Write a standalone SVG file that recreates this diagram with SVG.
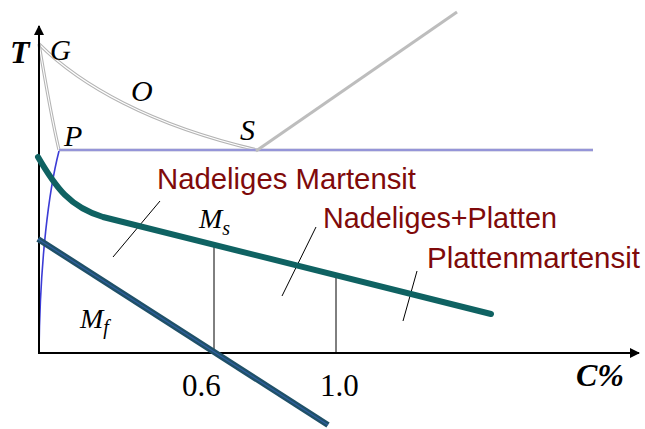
<svg xmlns="http://www.w3.org/2000/svg" width="645" height="429" viewBox="0 0 645 429">
<defs>
<marker id="arr" viewBox="0 0 10 10" refX="9" refY="5" markerWidth="5" markerHeight="5" orient="auto" markerUnits="strokeWidth">
<path d="M0,0 L10,5 L0,10 z" fill="#000"/>
</marker>
<style>
.dbl-o{fill:none;stroke:#b4b4b4;stroke-width:3.2}
.dbl-i{fill:none;stroke:#fff;stroke-width:1.1}
.lbl{font-family:"Liberation Serif",serif;font-style:italic;fill:#000}
.red{font-family:"Liberation Sans","Open Sans",sans-serif;fill:#7f0a0a;font-size:29px}
.lead{stroke:#000;stroke-width:1;fill:none}
.num{font-family:"Liberation Serif",serif;font-size:31px;fill:#000}
</style>
</defs>
<rect width="645" height="429" fill="#fff"/>
<g id="phase-lines">
<path class="dbl-o" d="M39,44 C80,85 150,125 257,150"/>
<path class="dbl-i" d="M39,44 C80,85 150,125 257,150"/>
<path class="dbl-o" d="M39,44 C45,80 52,120 59,150"/>
<path class="dbl-i" d="M39,44 C45,80 52,120 59,150"/>
<path d="M59,150 L593,150" fill="none" stroke="#c0c0d8" stroke-width="3.2"/>
<path d="M59,150 L593,150" fill="none" stroke="#6a6ad8" stroke-width="1"/>
<path d="M256,151 L457,12" fill="none" stroke="#bdbdbd" stroke-width="3"/>
<path d="M59,151 C49,190 40,260 39,352" fill="none" stroke="#3c3cd6" stroke-width="1.6"/>
</g>
<g id="axes">
<line x1="39" y1="353" x2="39" y2="26" stroke="#000" stroke-width="2" marker-end="url(#arr)"/>
<line x1="38" y1="353" x2="639" y2="353" stroke="#000" stroke-width="2" marker-end="url(#arr)"/>
</g>
<g id="connectors">
<line x1="214" y1="245" x2="214" y2="353" stroke="#000" stroke-width="1"/>
<line x1="336" y1="277" x2="336" y2="353" stroke="#000" stroke-width="1"/>
<line class="lead" x1="160" y1="201" x2="113" y2="257"/>
<line class="lead" x1="316" y1="227" x2="282" y2="296"/>
<line class="lead" x1="417" y1="271" x2="403" y2="321"/>
</g>
<g id="Ms-line">
<path d="M38,157 C56,188 70,207 103,217 L491,314" fill="none" stroke="#0f6262" stroke-width="6" stroke-linecap="round" stroke-linejoin="round"/>
</g>
<g id="Mf-line">
<path d="M38,239 L328,425" fill="none" stroke="#1f5068" stroke-width="6"/>
<path d="M38,239 L328,425" fill="none" stroke="#2f5fa0" stroke-width="1.2"/>
</g>
<g id="labels">
<text class="lbl" x="10" y="63" font-size="32" font-weight="bold">T</text>
<text class="lbl" x="50" y="60" font-size="29">G</text>
<text class="lbl" x="131" y="101" font-size="30">O</text>
<text class="lbl" x="240" y="140" font-size="30">S</text>
<text class="lbl" x="64" y="146" font-size="30">P</text>
<text class="lbl" x="199" y="228" font-size="28">M<tspan font-size="20" dy="7">s</tspan></text>
<text class="lbl" x="80" y="328" font-size="28">M<tspan font-size="20" dy="6">f</tspan></text>
<text class="lbl" x="576" y="386" font-size="32" font-weight="bold">C%</text>
<text class="num" x="182" y="396">0.6</text>
<text class="num" x="320" y="396">1.0</text>
</g>
<g id="region-labels">
<text class="red" x="157" y="189" textLength="259" lengthAdjust="spacingAndGlyphs">Nadeliges Martensit</text>
<text class="red" x="323" y="228" textLength="234" lengthAdjust="spacingAndGlyphs">Nadeliges+Platten</text>
<text class="red" x="427" y="268" textLength="213" lengthAdjust="spacingAndGlyphs">Plattenmartensit</text>
</g>
</svg>
